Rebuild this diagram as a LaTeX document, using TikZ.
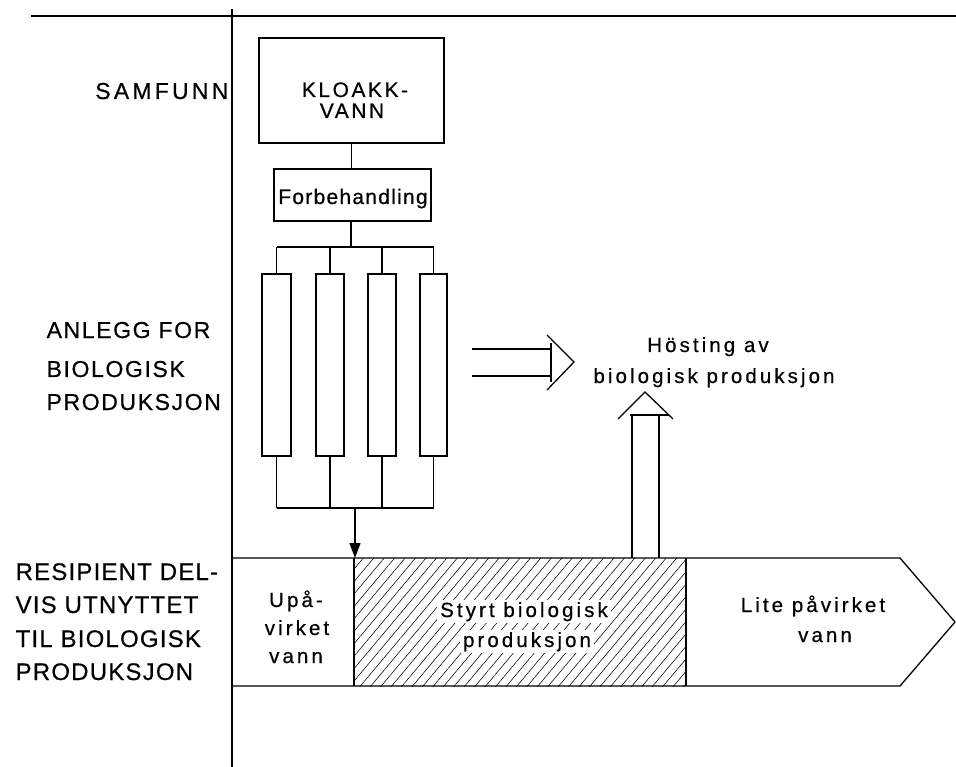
\documentclass[tikz,border=0pt]{standalone}
\usepackage{fontspec}
\setmainfont{Liberation Sans}
\usetikzlibrary{arrows.meta,patterns.meta}
\newcommand{\lsp}[1]{\addfontfeature{LetterSpace=#1,FakeBold=0.5}}
\begin{document}
\begin{tikzpicture}[x=1pt,y=-1pt, line width=1.3pt,
  box/.style={draw, rectangle, inner sep=0pt, fill=white},
  txt/.style={font=\fontsize{20.5}{22}\selectfont\lsp{15}, inner sep=0pt, anchor=base},
  side/.style={font=\fontsize{23}{26}\selectfont\lsp{7}, inner sep=0pt, anchor=base west},
  sideb/.style={font=\fontsize{24}{27}\selectfont\lsp{5}, inner sep=0pt, anchor=base west},
  whitebg/.style={fill=white, inner xsep=3pt, inner ysep=2pt}
]
\useasboundingbox (0,0) rectangle (956,767);
% frame lines
\draw[line width=1.5pt] (31,16) -- (956,16);
\draw[line width=1.5pt] (232,9) -- (232,767);

% left labels
\node[font=\fontsize{23}{26}\selectfont\lsp{14}, inner sep=0pt, anchor=base east] (samf) at (229,99) {SAMFUNN};
\node[side] (an1) at (46,338) {ANLEGG FOR};
\node[side] (an2) at (46,377) {BIOLOGISK};
\node[side] (an3) at (46,410) {PRODUKSJON};
\node[sideb] (re1) at (15,580) {RESIPIENT DEL-};
\node[sideb] (re2) at (15,613) {VIS UTNYTTET};
\node[sideb] (re3) at (15,647) {TIL BIOLOGISK};
\node[sideb] (re4) at (15,680) {PRODUKSJON};

% sewage box
\node[box, minimum width=185pt, minimum height=105pt] (kl) at (351.5,90.5) {};
\node[font=\fontsize{21}{22}\selectfont\lsp{12}, inner sep=0pt, anchor=base] (klt1) at (355,97) {KLOAKK-};
\node[font=\fontsize{21}{22}\selectfont\lsp{12}, inner sep=0pt, anchor=base] (klt2) at (352,118) {VANN};

% pretreatment
\node[box, minimum width=157pt, minimum height=52pt] (fb) at (352.5,195) {};
\node[font=\fontsize{21}{22}\selectfont\lsp{6}, inner sep=0pt, anchor=base] (fbt) at (353,204) {Forbehandling};
\draw (kl.south) -- (kl.south |- fb.north);

% bus coordinates
\coordinate (bt) at (351,247);
\coordinate (bb) at (355,508);
\draw (fb.south -| bt) -- (bt);

% tubes
\foreach \i/\x/\w in {1/276.5/29, 2/330/28, 3/382/28, 4/433.5/27}{
  \node[box, minimum width=\w pt, minimum height=182pt] (t\i) at (\x,365) {};
  \draw (t\i.north) -- (t\i.north |- bt);
  \draw (t\i.south) -- (t\i.south |- bb);
}
\draw (t1.north |- bt) -- (t4.north |- bt);
\draw (t1.south |- bb) -- (t4.south |- bb);

% recipient band
\coordinate (b0) at (232,558);
\coordinate (b1) at (900,558);
\coordinate (tip) at (955,622);
\coordinate (b2) at (900,686);
\coordinate (b3) at (232,686);
\coordinate (h1t) at (354,558);
\coordinate (h1b) at (354,686);
\coordinate (h2t) at (686,558);
\coordinate (h2b) at (686,686);
\fill[pattern={Lines[angle=50,distance=8pt,line width=0.55pt]}] (h1t) rectangle (h2b);
\draw (b0) -- (b1) -- (tip) -- (b2) -- (b3);
\draw (h1t) -- (h1b);
\draw (h2t) -- (h2b);

% arrow to recipient
\draw[-{Triangle[length=15pt,width=11pt]}] (bb) -- (bb |- h1t);

% band texts
\node[txt] (u1) at (296,607) {Upå-};
\node[txt] (u2) at (297,635) {virket};
\node[txt] (u3) at (296,663) {vann};
\node[txt, whitebg] (s1) at (524,617) {Styrt biologisk};
\node[txt, whitebg] (s2) at (527,647) {produksjon};
\node[txt] (l1) at (813,612) {Lite påvirket};
\node[txt] (l2) at (825,642) {vann};

% harvest
\node[txt] (hv1) at (708,352) {Hösting av};
\node[txt] (hv2) at (714,383) {biologisk produksjon};

% horizontal hollow arrow
\draw (472,349) -- (551,349);
\draw (472,376) -- (551,376);
\draw (551,343) -- (551,382);
\draw (547,335) -- (574,362) -- (547,390);

% vertical hollow arrow
\draw (632,558) -- (632,415);
\draw (659,558) -- (659,415);
\draw (630,415) -- (669,415);
\draw (618,419) -- (645,392) -- (673,419);
\end{tikzpicture}
\end{document}
